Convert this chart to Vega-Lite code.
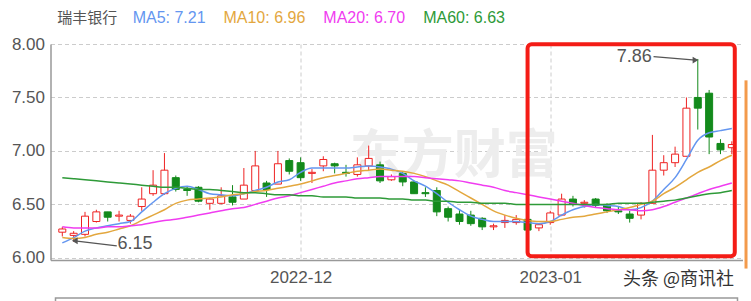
{
  "$schema": "https://vega.github.io/schema/vega-lite/v6.json",
  "width": 692,
  "height": 216,
  "autosize": {"type": "none"},
  "padding": {"left": 50.5, "top": 44, "right": 8.5, "bottom": 41},
  "background": "white",
  "config": {"view": {"stroke": null}, "font": "Liberation Sans"},
  "datasets": {
    "k": [
      {"i":0,"o":6.24,"c":6.27,"h":6.29,"l":6.20,"MA5":6.14,"MA10":6.19,"MA20":6.29,"MA60":6.75},
      {"i":1,"o":6.21,"c":6.23,"h":6.25,"l":6.15,"MA5":6.19,"MA10":6.18,"MA20":6.28,"MA60":6.74},
      {"i":2,"o":6.22,"c":6.39,"h":6.43,"l":6.20,"MA5":6.25,"MA10":6.19,"MA20":6.28,"MA60":6.73},
      {"i":3,"o":6.34,"c":6.43,"h":6.45,"l":6.33,"MA5":6.28,"MA10":6.22,"MA20":6.28,"MA60":6.72},
      {"i":4,"o":6.43,"c":6.38,"h":6.43,"l":6.34,"MA5":6.30,"MA10":6.24,"MA20":6.29,"MA60":6.71},
      {"i":5,"o":6.39,"c":6.40,"h":6.44,"l":6.34,"MA5":6.32,"MA10":6.27,"MA20":6.29,"MA60":6.70},
      {"i":6,"o":6.35,"c":6.39,"h":6.41,"l":6.32,"MA5":6.34,"MA10":6.30,"MA20":6.30,"MA60":6.69},
      {"i":7,"o":6.48,"c":6.55,"h":6.66,"l":6.44,"MA5":6.43,"MA10":6.35,"MA20":6.31,"MA60":6.68},
      {"i":8,"o":6.60,"c":6.68,"h":6.82,"l":6.58,"MA5":6.52,"MA10":6.40,"MA20":6.33,"MA60":6.67},
      {"i":9,"o":6.60,"c":6.82,"h":6.98,"l":6.59,"MA5":6.60,"MA10":6.45,"MA20":6.35,"MA60":6.66},
      {"i":10,"o":6.75,"c":6.64,"h":6.77,"l":6.62,"MA5":6.65,"MA10":6.51,"MA20":6.36,"MA60":6.66},
      {"i":11,"o":6.64,"c":6.63,"h":6.67,"l":6.58,"MA5":6.67,"MA10":6.54,"MA20":6.38,"MA60":6.65},
      {"i":12,"o":6.66,"c":6.53,"h":6.67,"l":6.52,"MA5":6.64,"MA10":6.55,"MA20":6.40,"MA60":6.64},
      {"i":13,"o":6.51,"c":6.55,"h":6.56,"l":6.45,"MA5":6.60,"MA10":6.56,"MA20":6.42,"MA60":6.64},
      {"i":14,"o":6.51,"c":6.58,"h":6.66,"l":6.50,"MA5":6.59,"MA10":6.57,"MA20":6.44,"MA60":6.63},
      {"i":15,"o":6.57,"c":6.52,"h":6.68,"l":6.49,"MA5":6.58,"MA10":6.59,"MA20":6.46,"MA60":6.62},
      {"i":16,"o":6.55,"c":6.68,"h":6.84,"l":6.55,"MA5":6.60,"MA10":6.60,"MA20":6.47,"MA60":6.61},
      {"i":17,"o":6.63,"c":6.86,"h":7.00,"l":6.62,"MA5":6.63,"MA10":6.62,"MA20":6.50,"MA60":6.61},
      {"i":18,"o":6.70,"c":6.64,"h":6.72,"l":6.57,"MA5":6.66,"MA10":6.63,"MA20":6.53,"MA60":6.60},
      {"i":19,"o":6.69,"c":6.88,"h":7.00,"l":6.69,"MA5":6.71,"MA10":6.65,"MA20":6.56,"MA60":6.59},
      {"i":20,"o":6.91,"c":6.81,"h":6.93,"l":6.78,"MA5":6.73,"MA10":6.67,"MA20":6.58,"MA60":6.59},
      {"i":21,"o":6.89,"c":6.75,"h":6.94,"l":6.72,"MA5":6.80,"MA10":6.69,"MA20":6.61,"MA60":6.58},
      {"i":22,"o":6.79,"c":6.80,"h":6.83,"l":6.70,"MA5":6.84,"MA10":6.72,"MA20":6.64,"MA60":6.58},
      {"i":23,"o":6.86,"c":6.92,"h":6.95,"l":6.81,"MA5":6.84,"MA10":6.75,"MA20":6.67,"MA60":6.57},
      {"i":24,"o":6.88,"c":6.86,"h":6.89,"l":6.79,"MA5":6.84,"MA10":6.77,"MA20":6.70,"MA60":6.57},
      {"i":25,"o":6.80,"c":6.79,"h":6.87,"l":6.76,"MA5":6.84,"MA10":6.79,"MA20":6.72,"MA60":6.57},
      {"i":26,"o":6.78,"c":6.87,"h":6.94,"l":6.76,"MA5":6.85,"MA10":6.81,"MA20":6.74,"MA60":6.56},
      {"i":27,"o":6.86,"c":6.93,"h":7.05,"l":6.82,"MA5":6.86,"MA10":6.82,"MA20":6.75,"MA60":6.56},
      {"i":28,"o":6.87,"c":6.72,"h":6.90,"l":6.70,"MA5":6.85,"MA10":6.83,"MA20":6.76,"MA60":6.56},
      {"i":29,"o":6.73,"c":6.76,"h":6.78,"l":6.72,"MA5":6.83,"MA10":6.82,"MA20":6.76,"MA60":6.55},
      {"i":30,"o":6.79,"c":6.71,"h":6.81,"l":6.67,"MA5":6.79,"MA10":6.81,"MA20":6.76,"MA60":6.55},
      {"i":31,"o":6.71,"c":6.60,"h":6.72,"l":6.60,"MA5":6.72,"MA10":6.79,"MA20":6.76,"MA60":6.54},
      {"i":32,"o":6.61,"c":6.60,"h":6.66,"l":6.57,"MA5":6.67,"MA10":6.76,"MA20":6.75,"MA60":6.54},
      {"i":33,"o":6.63,"c":6.43,"h":6.66,"l":6.39,"MA5":6.60,"MA10":6.72,"MA20":6.74,"MA60":6.53},
      {"i":34,"o":6.46,"c":6.38,"h":6.48,"l":6.34,"MA5":6.52,"MA10":6.68,"MA20":6.73,"MA60":6.53},
      {"i":35,"o":6.41,"c":6.34,"h":6.45,"l":6.31,"MA5":6.45,"MA10":6.62,"MA20":6.72,"MA60":6.52},
      {"i":36,"o":6.40,"c":6.32,"h":6.44,"l":6.30,"MA5":6.39,"MA10":6.56,"MA20":6.70,"MA60":6.52},
      {"i":37,"o":6.37,"c":6.29,"h":6.38,"l":6.26,"MA5":6.36,"MA10":6.50,"MA20":6.68,"MA60":6.51},
      {"i":38,"o":6.29,"c":6.30,"h":6.32,"l":6.26,"MA5":6.34,"MA10":6.44,"MA20":6.66,"MA60":6.51},
      {"i":39,"o":6.33,"c":6.35,"h":6.40,"l":6.28,"MA5":6.34,"MA10":6.40,"MA20":6.63,"MA60":6.51},
      {"i":40,"o":6.33,"c":6.36,"h":6.40,"l":6.31,"MA5":6.34,"MA10":6.37,"MA20":6.61,"MA60":6.50},
      {"i":41,"o":6.36,"c":6.26,"h":6.37,"l":6.24,"MA5":6.33,"MA10":6.35,"MA20":6.59,"MA60":6.50},
      {"i":42,"o":6.28,"c":6.31,"h":6.32,"l":6.25,"MA5":6.32,"MA10":6.34,"MA20":6.57,"MA60":6.50},
      {"i":43,"o":6.33,"c":6.42,"h":6.44,"l":6.31,"MA5":6.34,"MA10":6.34,"MA20":6.55,"MA60":6.50},
      {"i":44,"o":6.40,"c":6.55,"h":6.60,"l":6.39,"MA5":6.40,"MA10":6.36,"MA20":6.53,"MA60":6.50},
      {"i":45,"o":6.55,"c":6.50,"h":6.58,"l":6.48,"MA5":6.45,"MA10":6.38,"MA20":6.51,"MA60":6.50},
      {"i":46,"o":6.51,"c":6.52,"h":6.54,"l":6.47,"MA5":6.48,"MA10":6.39,"MA20":6.49,"MA60":6.50},
      {"i":47,"o":6.55,"c":6.49,"h":6.56,"l":6.47,"MA5":6.50,"MA10":6.41,"MA20":6.47,"MA60":6.50},
      {"i":48,"o":6.50,"c":6.44,"h":6.51,"l":6.42,"MA5":6.49,"MA10":6.43,"MA20":6.46,"MA60":6.50},
      {"i":49,"o":6.44,"c":6.43,"h":6.48,"l":6.41,"MA5":6.48,"MA10":6.45,"MA20":6.45,"MA60":6.51},
      {"i":50,"o":6.41,"c":6.37,"h":6.44,"l":6.33,"MA5":6.45,"MA10":6.47,"MA20":6.45,"MA60":6.51},
      {"i":51,"o":6.40,"c":6.51,"h":6.52,"l":6.36,"MA5":6.47,"MA10":6.50,"MA20":6.44,"MA60":6.51},
      {"i":52,"o":6.51,"c":6.82,"h":7.15,"l":6.51,"MA5":6.53,"MA10":6.53,"MA20":6.45,"MA60":6.52},
      {"i":53,"o":6.82,"c":6.89,"h":6.96,"l":6.77,"MA5":6.64,"MA10":6.60,"MA20":6.48,"MA60":6.53},
      {"i":54,"o":6.89,"c":6.97,"h":7.04,"l":6.85,"MA5":6.75,"MA10":6.66,"MA20":6.52,"MA60":6.54},
      {"i":55,"o":6.95,"c":7.40,"h":7.50,"l":6.95,"MA5":6.92,"MA10":6.73,"MA20":6.56,"MA60":6.56},
      {"i":56,"o":7.50,"c":7.40,"h":7.86,"l":7.20,"MA5":7.10,"MA10":6.80,"MA20":6.60,"MA60":6.58},
      {"i":57,"o":7.54,"c":7.13,"h":7.57,"l":6.97,"MA5":7.17,"MA10":6.85,"MA20":6.64,"MA60":6.60},
      {"i":58,"o":7.07,"c":7.01,"h":7.11,"l":6.97,"MA5":7.19,"MA10":6.91,"MA20":6.67,"MA60":6.61},
      {"i":59,"o":7.03,"c":7.06,"h":7.09,"l":6.97,"MA5":7.21,"MA10":6.96,"MA20":6.70,"MA60":6.63}
    ],
    "legend": [
      {"t":"MA5: 7.21","s":"MA5","i":6.2,"v":8.243},
      {"t":"MA10: 6.96","s":"MA10","i":14.2,"v":8.243},
      {"t":"MA20: 6.70","s":"MA20","i":23.0,"v":8.243},
      {"t":"MA60: 6.63","s":"MA60","i":31.8,"v":8.243}
    ],
    "ann": [
      {"t":"7.86","i":50.4,"v":7.879,"i2":52.1,"v2":7.881,"ie":55.8,"ve":7.85,"dir":"r"},
      {"t":"6.15","i":6.4,"v":6.131,"i2":4.8,"v2":6.112,"ie":1.1,"ve":6.159,"dir":"l"}
    ]
  },
  "encoding": {
    "x": {"field": "i", "type": "quantitative", "title": null, "scale": {"domain": [-0.6, 59.5], "nice": false},
      "axis": {"values": [21, 43], "labelExpr": "datum.value == 21 ? '2022-12' : '2023-01'", "grid": true, "gridDash": [4, 3], "gridColor": "#cccccc", "ticks": false, "domain": true, "domainColor": "#999999", "domainWidth": 1.5, "labelColor": "#555555", "labelFontSize": 17, "labelPadding": 9, "title": null}},
    "y": {"field": "v", "type": "quantitative", "title": null, "scale": {"domain": [5.98, 8], "nice": false},
      "axis": {"values": [6, 6.5, 7, 7.5, 8], "format": ".2f", "grid": true, "gridDash": [4, 3], "gridColor": "#cccccc", "ticks": false, "domain": true, "domainColor": "#999999", "domainWidth": 1.5, "labelColor": "#555555", "labelFontSize": 17, "labelPadding": 6, "title": null}}
  },
  "layer": [
    {
      "data": {"values": [{"t": "东方财富", "i": 34.5, "v": 6.94}]},
      "mark": {"type": "text", "font": "Noto Sans CJK SC", "fontWeight": "bold", "fontSize": 52, "color": "#ededed", "align": "center", "baseline": "middle"},
      "encoding": {"text": {"field": "t"}}
    },
    {
      "data": {"name": "k"},
      "mark": {"type": "rule", "strokeWidth": 1},
      "encoding": {
        "y": {"field": "l", "type": "quantitative", "title": null},
        "y2": {"field": "h"},
        "color": {"condition": {"test": "datum.c >= datum.o", "value": "#ee2222"}, "value": "#138a1b"}
      }
    },
    {
      "data": {"name": "k"},
      "mark": {"type": "bar", "width": 7, "strokeWidth": 1},
      "encoding": {
        "y": {"field": "o", "type": "quantitative", "title": null},
        "y2": {"field": "c"},
        "fill": {"condition": {"test": "datum.c >= datum.o", "value": "#ffffff"}, "value": "#138a1b"},
        "stroke": {"condition": {"test": "datum.c >= datum.o", "value": "#ee2222"}, "value": "#138a1b"}
      }
    },
    {
      "data": {"name": "k"},
      "transform": [{"fold": ["MA5", "MA10", "MA20", "MA60"], "as": ["s", "v"]}],
      "mark": {"type": "line", "strokeWidth": 1.5, "interpolate": "monotone"},
      "encoding": {
        "color": {"field": "s", "type": "nominal", "scale": {"domain": ["MA5", "MA10", "MA20", "MA60"], "range": ["#6496f0", "#e3a73e", "#f03cf0", "#2e9a38"]}, "legend": null},
        "detail": {"field": "s"}
      }
    },
    {
      "data": {"name": "legend"},
      "mark": {"type": "text", "align": "left", "baseline": "middle", "fontSize": 16, "font": "Liberation Sans"},
      "encoding": {
        "text": {"field": "t"},
        "color": {"field": "s", "type": "nominal", "scale": {"domain": ["MA5", "MA10", "MA20", "MA60"], "range": ["#6496f0", "#e3a73e", "#f03cf0", "#2e9a38"]}, "legend": null}
      }
    },
    {
      "data": {"values": [{"t": "瑞丰银行", "i": -0.45, "v": 8.243}]},
      "mark": {"type": "text", "align": "left", "baseline": "middle", "fontSize": 15, "font": "Noto Sans CJK SC", "color": "#555555"},
      "encoding": {"text": {"field": "t"}}
    },
    {
      "data": {"values": [{"t": "头条 @商讯社", "i": 54.3, "v": 5.79}]},
      "mark": {"type": "text", "align": "center", "baseline": "middle", "fontSize": 18, "font": "Noto Sans CJK SC", "color": "#333333"},
      "encoding": {"text": {"field": "t"}}
    },
    {
      "data": {"values": [{"i": -0.6, "v": 5.625, "i2": 59.5, "v2": 5.2}]},
      "mark": {"type": "rect", "filled": false, "stroke": "#999999", "strokeWidth": 1.5, "clip": false},
      "encoding": {
        "x2": {"field": "i2"},
        "y2": {"field": "v2"}
      }
    },
    {
      "data": {"values": [{"i": 60.25, "v": 7.66, "v2": 5.9}]},
      "mark": {"type": "rule", "stroke": "#f39a4b", "strokeWidth": 3, "clip": false},
      "encoding": {
        "y2": {"field": "v2"}
      }
    },
    {
      "data": {"name": "ann"},
      "mark": {"type": "rule", "strokeWidth": 1.3, "color": "#555555"},
      "encoding": {
        "x": {"field": "i2", "type": "quantitative", "title": null},
        "y": {"field": "v2", "type": "quantitative", "title": null},
        "x2": {"field": "ie"},
        "y2": {"field": "ve"}
      }
    },
    {
      "data": {"name": "ann"},
      "mark": {"type": "point", "filled": true, "size": 45, "color": "#555555", "opacity": 1},
      "encoding": {
        "x": {"field": "ie", "type": "quantitative", "title": null},
        "y": {"field": "ve", "type": "quantitative", "title": null},
        "shape": {"field": "dir", "type": "nominal", "scale": {"domain": ["r", "l"], "range": ["triangle-right", "triangle-left"]}, "legend": null}
      }
    },
    {
      "data": {"name": "ann"},
      "mark": {"type": "text", "align": "center", "baseline": "middle", "fontSize": 18, "color": "#555555"},
      "encoding": {"text": {"field": "t"}}
    },
    {
      "data": {"values": [{"i": 41.0, "v": 6.014, "i2": 59.26, "v2": 7.998}]},
      "mark": {"type": "rect", "filled": false, "stroke": "#f41c16", "strokeWidth": 4, "cornerRadius": 4},
      "encoding": {
        "x2": {"field": "i2"},
        "y2": {"field": "v2"}
      }
    }
  ]
}
